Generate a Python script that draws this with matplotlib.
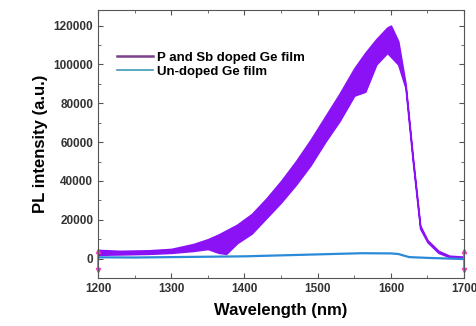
import matplotlib.pyplot as plt
from matplotlib.ticker import MultipleLocator

plt.rcParams['font.family'] = ['Liberation Sans', 'DejaVu Sans']

# P and Sb doped Ge film: noisy band, read as upper / lower envelope
doped_wl = [1200, 1230, 1270, 1300, 1330, 1350, 1365, 1375, 1390, 1410,
            1430, 1450, 1470, 1490, 1510, 1530, 1550, 1565, 1580, 1595,
            1600, 1610, 1620, 1630, 1640, 1650, 1665, 1680, 1700]
doped_hi = [4500, 4000, 4300, 5000, 7500, 10000, 12500, 14500, 17500, 23000,
            31000, 40000, 50000, 61000, 73000, 85000, 98000, 106000, 113000, 119000,
            120000, 112000, 90000, 52000, 17000, 9500, 4000, 1500, 1000]
doped_lo = [2000, 2200, 2500, 3000, 4000, 5000, 3000, 2500, 8000, 13000,
            21000, 29000, 38000, 48000, 60000, 71000, 84000, 86000, 100000, 106000,
            104000, 100000, 88000, 50000, 15500, 8500, 3000, 800, 0]

# Un-doped Ge film
undoped_wl = [1200, 1250, 1300, 1400, 1500, 1560, 1600, 1610, 1625, 1650, 1700]
undoped_pl = [700, 600, 800, 1200, 2200, 2800, 2700, 2400, 800, 400, -200]

# small magenta markers at both ends of the axis
edge_wl = [1200, 1700]
edge_lo = [-6000, -6000]
edge_hi = [4000, 4000]

purple = '#8a12f5'
blue = '#2a8ad8'

fig = plt.figure(figsize=(4.76, 3.26), dpi=100)
ax = fig.add_axes([0.206, 0.147, 0.769, 0.822])

ax.fill_between(doped_wl, doped_lo, doped_hi, color=purple, lw=1.2,
                edgecolor=purple)
ax.plot([], [], color='#7b3f8c', lw=1.8, label='P and Sb doped Ge film')
ax.plot(undoped_wl, undoped_pl, color=blue, lw=1.6)
ax.plot([], [], color='#3f9ab8', lw=1.2, label='Un-doped Ge film')

for x, lo, hi in zip(edge_wl, edge_lo, edge_hi):
    ax.plot([x, x], [lo, hi], color='#ff33cc', lw=1.2, clip_on=False)
    ax.plot([x], [hi], marker='^', ms=3, color='#ff33cc', clip_on=False)
    ax.plot([x], [lo], marker='v', ms=3, color='#ff33cc', clip_on=False)

ax.set_xlim(1200, 1700)
ax.set_ylim(-10000, 128000)
ax.xaxis.set_major_locator(MultipleLocator(100))
ax.xaxis.set_minor_locator(MultipleLocator(50))
ax.yaxis.set_major_locator(MultipleLocator(20000))
ax.yaxis.set_minor_locator(MultipleLocator(10000))
ax.tick_params(which='both', direction='in', top=True, right=True,
               colors='#555555', labelcolor='#333333')
ax.tick_params(which='major', length=3.5, labelsize=8.5)
ax.tick_params(which='minor', length=2)
for lab in ax.get_xticklabels() + ax.get_yticklabels():
    lab.set_fontweight('bold')
for sp in ax.spines.values():
    sp.set_color('#555555')
    sp.set_linewidth(0.8)

ax.set_xlabel('Wavelength (nm)', fontsize=12, fontweight='bold', labelpad=6)
ax.set_ylabel('PL intensity (a.u.)', fontsize=12, fontweight='bold', labelpad=4)

ax.legend(loc='upper left', bbox_to_anchor=(0.02, 0.89), frameon=False,
          prop={'weight': 'bold', 'size': 9.5}, handlelength=2.7,
          handletextpad=0.3, labelspacing=0.15)

fig.savefig('out.png', dpi=100)
